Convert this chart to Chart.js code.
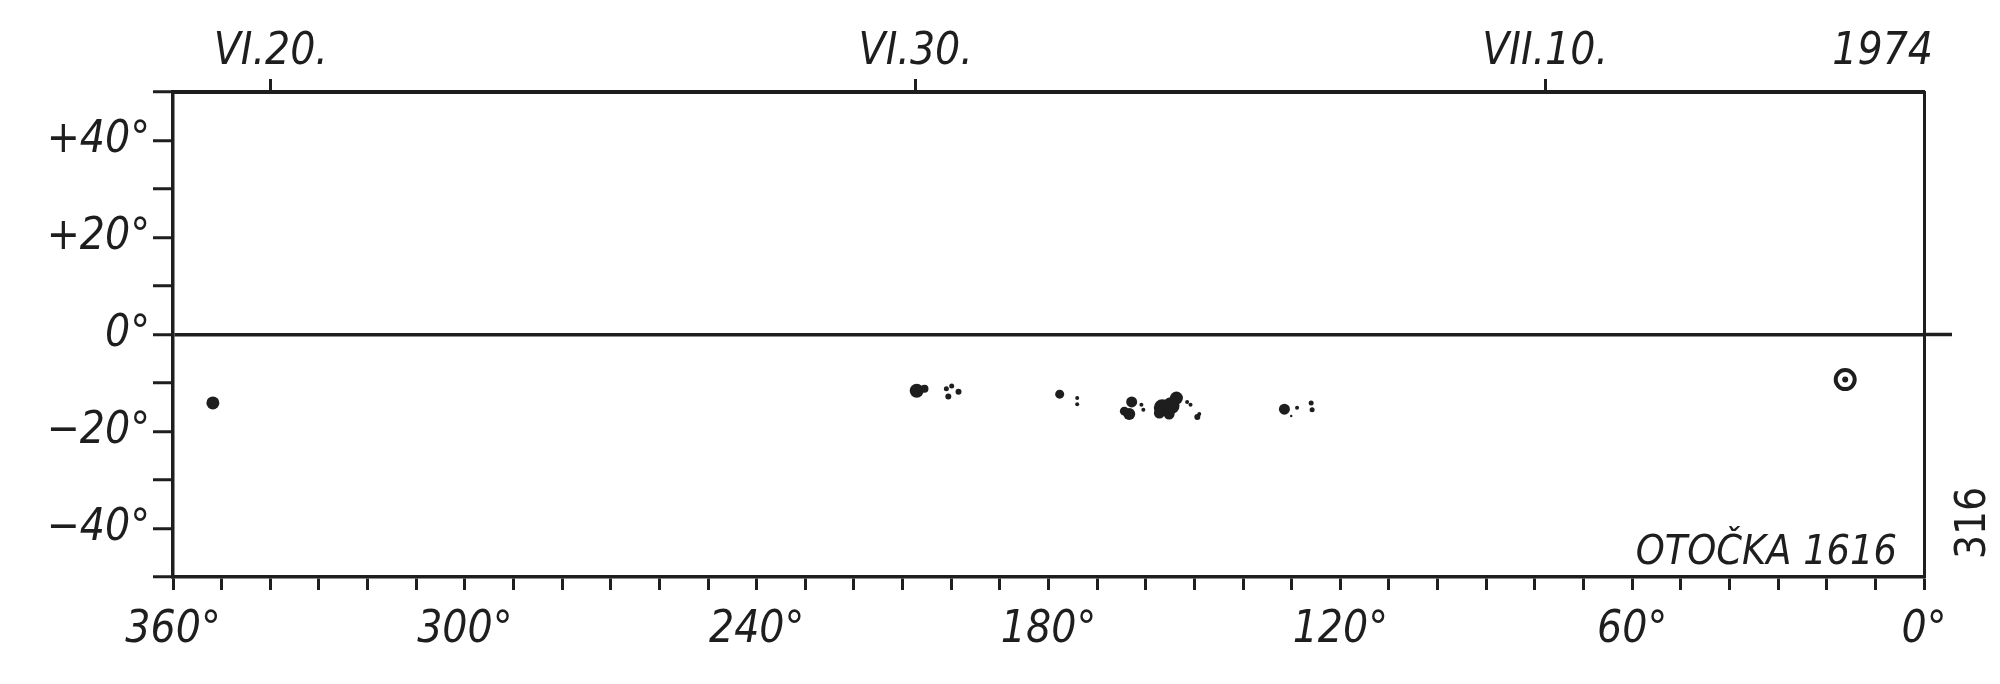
<!DOCTYPE html>
<html>
<head>
<meta charset="utf-8">
<title>OTOČKA 1616</title>
<script src="https://cdn.jsdelivr.net/npm/chart.js"></script>
<style>
    html, body { margin: 0; padding: 0; background: #fff; }
    #wrap { width: 2000px; height: 684px; position: relative; }
</style>
</head>
<body>
<div id="wrap"><canvas id="chrtSynoptic"></canvas></div>
<script>
// Carrington rotation 1616 (1974) - longitude runs 360 -> 0
const lonLabelValues = [360, 300, 240, 180, 120, 60, 0];
const latLabelValues = [40, 20, 0, -20, -40];
const latLabels = ["+40°", "+20°", "0°", "−20°", "−40°"];

// dates along the top, placed at the longitude of central meridian
const dateLabels = ["VI.20.", "VI.30.", "VII.10.", "1974"];
const dateLon = [339.9, 207.3, 77.9, 8.5];

// sunspots (lon, lat, size)
const spotLon = [351.8, 207.1, 205.5, 199.9, 201.0, 198.5, 200.6, 177.7, 174.1, 174.1,
    162.9, 163.4, 164.4, 160.9, 160.5, 156.6, 154.8, 153.7, 157.2, 155.2,
    151.5, 150.8, 149.4, 149.0, 131.5, 128.9, 130.1, 126.0, 125.8, 16.2];
const spotLat = [-14.1, -11.6, -11.2, -10.6, -11.2, -11.8, -12.8, -12.3, -13.1, -14.4,
    -13.9, -16.4, -15.8, -14.5, -15.5, -15.1, -14.7, -13.1, -16.2, -16.4,
    -13.9, -14.5, -17.0, -16.4, -15.4, -15.1, -16.8, -14.1, -15.5, -9.3];
const spotSize = [6.5, 7, 4, 2.5, 2.5, 3, 3, 4.5, 2, 2,
    5.5, 6, 4.5, 2, 2, 8.5, 8.5, 6.5, 5.5, 5.5,
    2, 2, 3, 2, 5.5, 2, 1.2, 2.5, 2.5, 3];

// penumbra ring around the spot near the right edge
const ringLon = [16.2];
const ringLat = [-9.3];

((d, c) => {
    const CHRT = d.getElementById("chrtSynoptic");
    const INK = "#1e1e1e";
    const FAMILY = "'DejaVu Sans Condensed', 'Liberation Sans Narrow', 'DejaVu Sans', sans-serif";

    function toPoints(xs, ys) {
        return xs.map((x, i) => ({ x: x, y: ys[i] }));
    }

    const textPlugin = {
        id: "rotationText",
        afterDraw(chart) {
            const ctx = chart.ctx, area = chart.chartArea;
            ctx.save();
            ctx.fillStyle = INK;
            ctx.font = "italic 41px " + FAMILY;
            ctx.textAlign = "right";
            ctx.textBaseline = "alphabetic";
            ctx.fillText("OTOČKA 1616", area.right - 27, area.bottom - 13);
            ctx.translate(area.right + 50, area.bottom - 54);
            ctx.rotate(-Math.PI / 2);
            ctx.font = "42px " + FAMILY;
            ctx.textAlign = "center";
            ctx.textBaseline = "middle";
            ctx.fillText("316", 0, 0);
            ctx.restore();
        }
    };

    function Synoptic_DrawChart() {
        new Chart(CHRT, {
            type: "scatter",
            data: {
                datasets: [{
                    label: "spots",
                    data: toPoints(spotLon, spotLat),
                    pointRadius: spotSize,
                    pointBackgroundColor: INK,
                    pointBorderWidth: 0,
                    xAxisID: "x",
                    yAxisID: "y"
                }, {
                    label: "ring",
                    data: toPoints(ringLon, ringLat),
                    pointRadius: 9.5,
                    pointBackgroundColor: "rgba(255,255,255,0)",
                    pointBorderColor: INK,
                    pointBorderWidth: 4,
                    xAxisID: "x",
                    yAxisID: "y"
                }]
            },
            options: {
                responsive: true,
                maintainAspectRatio: false,
                animation: false,
                layout: { padding: 0 },
                plugins: {
                    legend: { display: false },
                    tooltip: { enabled: false }
                },
                scales: {
                    x: {
                        type: "linear",
                        position: "bottom",
                        min: 0,
                        max: 360,
                        reverse: true,
                        afterFit: s => { s.height = 107 },
                        afterBuildTicks: s => {
                            const t = [];
                            for (let v = 0; v <= 360; v += 10) t.push({ value: v });
                            s.ticks = t;
                        },
                        border: { display: true, color: INK, width: 3.5 },
                        grid: { drawOnChartArea: false, drawTicks: true, tickLength: 13, tickWidth: 3, tickColor: INK },
                        ticks: {
                            autoSkip: false,
                            maxRotation: 0,
                            padding: 14,
                            color: INK,
                            font: { family: FAMILY, size: 44, style: "italic" },
                            callback: v => lonLabelValues.includes(v) ? v + "°" : ""
                        }
                    },
                    xTop: {
                        type: "linear",
                        position: "top",
                        min: 0,
                        max: 360,
                        reverse: true,
                        afterFit: s => { s.height = 92 },
                        afterBuildTicks: s => { s.ticks = dateLon.map(v => ({ value: v })) },
                        border: { display: true, color: INK, width: 4 },
                        grid: {
                            drawOnChartArea: false,
                            drawTicks: true,
                            tickLength: 13,
                            tickWidth: 3,
                            tickColor: ctx => (ctx.tick && ctx.tick.value === dateLon[3]) ? "rgba(0,0,0,0)" : INK
                        },
                        ticks: {
                            autoSkip: false,
                            maxRotation: 0,
                            padding: 0,
                            color: INK,
                            font: { family: FAMILY, size: 44, style: "italic" },
                            callback: v => dateLabels[dateLon.indexOf(v)]
                        }
                    },
                    y: {
                        type: "linear",
                        position: "left",
                        min: -50,
                        max: 50,
                        afterFit: s => { s.width = 173 },
                        afterBuildTicks: s => {
                            const t = [];
                            for (let v = -50; v <= 50; v += 10) t.push({ value: v });
                            s.ticks = t;
                        },
                        border: { display: true, color: INK, width: 3.5 },
                        grid: {
                            drawOnChartArea: true,
                            drawTicks: true,
                            tickLength: 20,
                            tickWidth: 3,
                            lineWidth: 3.5,
                            tickColor: INK,
                            color: ctx => (ctx.tick && ctx.tick.value === 0) ? INK : "rgba(0,0,0,0)"
                        },
                        ticks: {
                            autoSkip: false,
                            padding: 3,
                            color: INK,
                            font: { family: FAMILY, size: 44, style: "italic" },
                            callback: v => {
                                const i = latLabelValues.indexOf(v);
                                return i >= 0 ? latLabels[i] : "";
                            }
                        }
                    },
                    yRight: {
                        type: "linear",
                        position: "right",
                        min: -50,
                        max: 50,
                        afterFit: s => { s.width = 76 },
                        afterBuildTicks: s => {
                            const t = [];
                            for (let v = -50; v <= 50; v += 10) t.push({ value: v });
                            s.ticks = t;
                        },
                        border: { display: true, color: INK, width: 3 },
                        grid: {
                            drawOnChartArea: false,
                            drawTicks: true,
                            tickLength: 28,
                            tickWidth: 3.5,
                            tickColor: ctx => (ctx.tick && ctx.tick.value === 0) ? INK : "rgba(0,0,0,0)"
                        },
                        ticks: { display: false }
                    }
                }
            },
            plugins: [textPlugin]
        });
    }

    d.addEventListener("DOMContentLoaded", e => {
        try {
            Synoptic_DrawChart();
        } catch (ex) {
            c(ex);
            throw ex;
        }
    })
})(document, console.log)
</script>
</body>
</html>
